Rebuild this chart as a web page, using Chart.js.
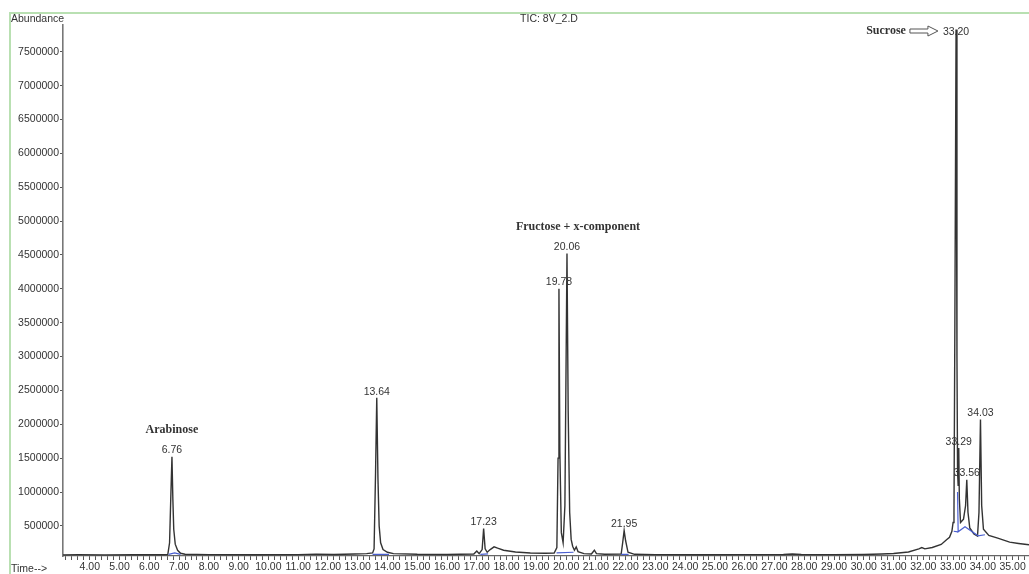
<!DOCTYPE html>
<html>
<head>
<meta charset="utf-8">
<title>TIC: 8V_2.D</title>
<script src="https://cdn.jsdelivr.net/npm/chart.js@4.4.1/dist/chart.umd.min.js"></script>
<style>
  html, body { margin: 0; padding: 0; background: #fff; }
  .wrap { position: relative; width: 1029px; height: 574px; }
</style>
</head>
<body>
<div class="wrap"><canvas id="chart"></canvas></div>
<script>
'use strict';

// retention time (min) / abundance
const times = [
  3.10, 3.60, 4.50, 5.50, 6.40, 6.62, 6.68, 6.72, 6.76, 6.79, 6.82, 6.87, 6.95, 7.05, 7.20,
  8.00, 9.50, 11.00, 11.60, 12.20, 12.90, 13.30, 13.50, 13.55, 13.60, 13.64, 13.68, 13.72, 13.77, 13.85,
  14.00, 14.20, 15.00, 16.00, 16.90, 17.00, 17.08, 17.18, 17.23, 17.28, 17.35, 17.45, 17.58, 17.70, 17.90,
  18.30, 18.80, 19.30, 19.60, 19.69, 19.73, 19.76, 19.79, 19.84, 19.90, 19.96, 20.03, 20.07, 20.12, 20.17,
  20.22, 20.28, 20.34, 20.40, 20.60, 20.85, 20.95, 21.02, 21.30, 21.85, 21.90, 21.95, 22.00, 22.08, 22.30,
  23.00, 24.50, 26.00, 27.30, 27.60, 27.90, 29.00, 30.00, 30.60, 31.00, 31.50, 31.85, 31.95, 32.05, 32.30,
  32.60, 32.78, 32.88, 32.96, 33.00, 33.03, 33.06, 33.10, 33.13, 33.15, 33.17, 33.19, 33.21, 33.25, 33.35,
  33.42, 33.46, 33.50, 33.56, 33.70, 33.82, 33.87, 33.92, 33.96, 34.02, 34.20, 34.50, 34.90, 35.20, 35.55
];
const abundance = [
  72000, 75000, 72000, 74000, 73000, 76000, 250000, 900000, 1520000, 900000, 450000, 230000, 140000, 95000, 80000,
  75000, 74000, 76000, 82000, 78000, 85000, 90000, 100000, 160000, 1300000, 2390000, 1200000, 500000, 250000, 150000,
  110000, 90000, 80000, 78000, 85000, 130000, 90000, 150000, 460000, 160000, 110000, 150000, 190000, 170000, 140000,
  115000, 100000, 95000, 100000, 180000, 1500000, 4000000, 1600000, 400000, 250000, 800000, 4520000, 2200000, 700000, 300000,
  200000, 140000, 190000, 120000, 90000, 85000, 140000, 90000, 80000, 85000, 250000, 430000, 280000, 110000, 80000,
  76000, 74000, 75000, 78000, 85000, 78000, 76000, 78000, 85000, 92000, 115000, 160000, 180000, 160000, 180000,
  225000, 295000, 330000, 420000, 550000, 700000, 3500000, 7830000, 3000000, 1300000, 1100000, 1650000, 900000, 550000, 600000,
  800000, 1180000, 700000, 470000, 380000, 350000, 700000, 2070000, 800000, 450000, 360000, 320000, 260000, 240000, 220000
];

// integration baselines (blue), null = gap
const baseTimes = [
  6.65, 6.85, 7.05, null,
  13.50, 14.05, null,
  17.12, 17.38, null,
  19.68, 20.25, null,
  21.85, 22.10, null,
  33.02, 33.16, null,
  33.15, 33.17, 33.40, 33.84, 34.07
];
const baseValues = [
  80000, 100000, 80000, null,
  80000, 80000, null,
  80000, 85000, null,
  100000, 110000, null,
  80000, 80000, null,
  420000, 410000, null,
  1000000, 413000, 487000, 354000, 369000
];

const peakLabels = ['6.76', '13.64', '17.23', '19.78', '20.06', '21.95', '33.20', '33.29', '33.56', '34.03'];
const peakTimes = [6.76, 13.64, 17.23, 19.76, 20.03, 21.95, 33.10, 33.19, 33.46, 33.92];
const peakAbund = [1520000, 2390000, 460000, 4000000, 4520000, 430000, 7830000, 1650000, 1180000, 2070000];

const compoundNames = ['Arabinose', 'Fructose + x-component', 'Sucrose'];
const compoundTimes = [6.76, 20.40, 33.10];
const compoundAbund = [1520000, 4520000, 7830000];

const yTicks = [500000, 1000000, 1500000, 2000000, 2500000, 3000000, 3500000, 4000000,
  4500000, 5000000, 5500000, 6000000, 6500000, 7000000, 7500000];
const xTickLabels = ['4.00', '5.00', '6.00', '7.00', '8.00', '9.00', '10.00', '11.00', '12.00',
  '13.00', '14.00', '15.00', '16.00', '17.00', '18.00', '19.00', '20.00', '21.00', '22.00',
  '23.00', '24.00', '25.00', '26.00', '27.00', '28.00', '29.00', '30.00', '31.00', '32.00',
  '33.00', '34.00', '35.00'];
const xMinorPerMajor = 5;

const SANS = '"Liberation Sans", Arial, sans-serif';
const SERIF = '"Liberation Serif", "Times New Roman", serif';
const INK = '#333';

function hollowArrow(ctx, x0, y, len) {
  // outlined arrow pointing right, like the one in the printout
  const head = 10;
  ctx.beginPath();
  ctx.moveTo(x0, y - 2);
  ctx.lineTo(x0 + len - head, y - 2);
  ctx.lineTo(x0 + len - head, y - 5);
  ctx.lineTo(x0 + len, y);
  ctx.lineTo(x0 + len - head, y + 5);
  ctx.lineTo(x0 + len - head, y + 2);
  ctx.lineTo(x0, y + 2);
  ctx.closePath();
  ctx.strokeStyle = '#555';
  ctx.lineWidth = 1;
  ctx.stroke();
}

const decorations = {
  id: 'decorations',
  beforeDraw(chart) {
    const { ctx, width, height } = chart;
    ctx.save();
    ctx.fillStyle = '#fff';
    ctx.fillRect(0, 0, width, height);
    // green frame of the original screenshot
    ctx.strokeStyle = '#b9e0b2';
    ctx.lineWidth = 2;
    ctx.beginPath();
    ctx.moveTo(10, height);
    ctx.lineTo(10, 13);
    ctx.lineTo(width, 13);
    ctx.stroke();
    ctx.restore();
  },
  afterDraw(chart) {
    const { ctx, chartArea } = chart;
    const xs = chart.scales.x;
    const ys = chart.scales.y;
    ctx.save();
    ctx.fillStyle = INK;

    ctx.font = '10.5px ' + SANS;
    ctx.textBaseline = 'middle';
    ctx.textAlign = 'left';
    ctx.fillText('Abundance', 11, 19);
    ctx.fillText('Time-->', 11, 569);
    ctx.textAlign = 'center';
    ctx.fillText('TIC: 8V_2.D', 549, 19);

    // retention time over each peak
    const labelPos = [];
    ctx.textBaseline = 'bottom';
    peakLabels.forEach((txt, i) => {
      const x = xs.getPixelForValue(peakTimes[i]);
      let y = ys.getPixelForValue(peakAbund[i]) - 1;
      y = Math.max(y, chartArea.top + 12);
      labelPos.push({ x, y, w: ctx.measureText(txt).width });
      ctx.fillText(txt, x, y);
    });

    // compound names
    ctx.font = 'bold 12px ' + SERIF;
    compoundNames.forEach((name, i) => {
      const k = peakTimes.indexOf(compoundTimes[i]);
      const x = xs.getPixelForValue(compoundTimes[i]);
      const yPeak = ys.getPixelForValue(compoundAbund[i]) - 1;
      if (yPeak - 32 < chartArea.top && k >= 0) {
        // no room above: put the name to the left with an arrow
        const p = labelPos[k];
        const left = p.x - p.w / 2 - 3;
        const ym = p.y - 6;
        hollowArrow(ctx, left - 30, ym, 28);
        ctx.textAlign = 'right';
        ctx.textBaseline = 'middle';
        ctx.fillText(name, left - 34, ym);
      } else {
        ctx.textAlign = 'center';
        ctx.textBaseline = 'bottom';
        ctx.fillText(name, x, yPeak - 20);
      }
    });
    ctx.restore();
  }
};

function renderChart() {
  const traceData = times.map((t, i) => ({ x: t, y: abundance[i] }));
  const baseData = baseTimes.map((t, i) => ({ x: t === null ? baseTimes[i - 1] : t, y: baseValues[i] }));

  new Chart(document.getElementById('chart').getContext('2d'), {
    type: 'line',
    data: {
      datasets: [
        {
          label: 'baseline',
          data: baseData,
          borderColor: '#4a5fd0',
          borderWidth: 1.2,
          pointRadius: 0,
          tension: 0,
          spanGaps: false,
        },
        {
          label: 'TIC',
          data: traceData,
          borderColor: '#333',
          borderWidth: 1.4,
          pointRadius: 0,
          tension: 0,
        },
      ],
    },
    options: {
      responsive: true,
      maintainAspectRatio: false,
      animation: false,
      layout: { padding: { top: 25, right: 0, left: 0, bottom: 0 } },
      plugins: { legend: { display: false }, tooltip: { enabled: false } },
      scales: {
        x: {
          type: 'linear',
          min: 3.1,
          max: 35.55,
          afterFit(scale) { scale.height = 18; },
          afterBuildTicks(scale) {
            // major ticks from the label list, minor ones in between
            const majors = xTickLabels.map(Number);
            const step = (majors[1] - majors[0]) / xMinorPerMajor;
            const ticks = [];
            for (let k = -xMinorPerMajor; k <= (majors.length - 1) * xMinorPerMajor + 2; k++) {
              const v = Math.round((majors[0] + k * step) * 1000) / 1000;
              if (v > scale.min && v < scale.max) ticks.push({ value: v });
            }
            scale.ticks = ticks;
          },
          border: { color: '#666', width: 1.2 },
          grid: { drawOnChartArea: false, tickLength: 4, tickColor: '#555', tickWidth: 1 },
          ticks: {
            autoSkip: false,
            maxRotation: 0,
            padding: 1,
            color: INK,
            font: { family: SANS, size: 10.5 },
            callback: v => {
              const j = xTickLabels.map(Number).indexOf(v);
              return j >= 0 ? xTickLabels[j] : '';
            },
          },
        },
        y: {
          min: 55000,
          max: 7896000,
          afterFit(scale) { scale.width = 63; },
          afterBuildTicks(scale) { scale.ticks = yTicks.map(v => ({ value: v })); },
          border: { color: '#777', width: 1.6 },
          grid: { drawOnChartArea: false, tickLength: 3, tickColor: '#555' },
          ticks: {
            autoSkip: false,
            padding: 1,
            color: INK,
            font: { family: SANS, size: 10.5 },
            callback: v => String(v),
          },
        },
      },
    },
    plugins: [decorations],
  });
}

renderChart();
</script>
</body>
</html>
